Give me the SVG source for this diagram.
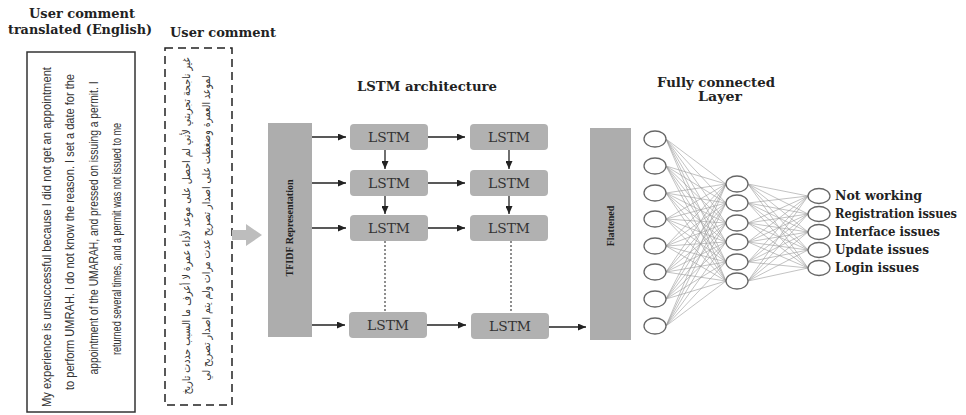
<svg xmlns="http://www.w3.org/2000/svg" width="966" height="415" viewBox="0 0 966 415">
<defs>
<style>
.title{font-family:"DejaVu Serif","Liberation Serif",serif;font-weight:bold;font-size:13px;fill:#222;text-anchor:middle}
.en{font-family:"Liberation Sans",sans-serif;font-size:13px;fill:#333;text-anchor:middle}
.ar{font-family:"DejaVu Sans",sans-serif;font-size:11px;fill:#333;text-anchor:middle}
.box{fill:#adadad}
.lstm{fill:#b1b1b1}
.lt{font-family:"DejaVu Serif","Liberation Serif",serif;font-size:12px;fill:#333;text-anchor:middle}
.vt{font-family:"Liberation Serif",serif;font-weight:bold;font-size:10px;fill:#222;text-anchor:middle}
.arr{stroke:#222;stroke-width:1.3;fill:none;marker-end:url(#ah)}
.dash{stroke:#444;stroke-width:1.2;stroke-dasharray:2 2;fill:none}
.net{stroke:#9a9a9a;stroke-width:0.6;fill:none}
.nd{fill:#fff;stroke:#666;stroke-width:1.3}
.lab{font-family:"DejaVu Serif","Liberation Serif",serif;font-weight:bold;font-size:12px;fill:#222}
</style>
<marker id="ah" markerUnits="userSpaceOnUse" markerWidth="8" markerHeight="7" refX="8" refY="3.5" orient="auto">
<path d="M0,0 L8,3.5 L0,7 z" fill="#222"/>
</marker>
</defs>
<rect width="966" height="415" fill="#fff"/>

<g id="titles">
<text class="title" x="82" y="18" textLength="106" lengthAdjust="spacingAndGlyphs">User comment</text>
<text class="title" x="80" y="34" textLength="144" lengthAdjust="spacingAndGlyphs">translated (English)</text>
<text class="title" x="223" y="37" textLength="106" lengthAdjust="spacingAndGlyphs">User comment</text>
<text class="title" x="427" y="91" textLength="140" lengthAdjust="spacingAndGlyphs">LSTM architecture</text>
<text class="title" x="716" y="87" textLength="118" lengthAdjust="spacingAndGlyphs">Fully connected</text>
<text class="title" x="720" y="101" textLength="44" lengthAdjust="spacingAndGlyphs">Layer</text>
</g>

<g id="english-comment">
<rect x="27" y="52" width="108" height="360" fill="#fff" stroke="#333" stroke-width="1.5"/>
<text class="en" transform="translate(51,237) rotate(-90)" textLength="340" lengthAdjust="spacingAndGlyphs">My experience is unsuccessful because I did not get an appointment</text>
<text class="en" transform="translate(74,232) rotate(-90)" textLength="316" lengthAdjust="spacingAndGlyphs">to perform UMRAH. I do not know the reason. I set a date for the</text>
<text class="en" transform="translate(98,228) rotate(-90)" textLength="293" lengthAdjust="spacingAndGlyphs">appointment of the UMARAH, and pressed on issuing a permit. I</text>
<text class="en" transform="translate(121,239) rotate(-90)" textLength="232" lengthAdjust="spacingAndGlyphs">returned several times, and a permit was not issued to me</text>
</g>

<g id="arabic-comment">
<rect x="165" y="48" width="67" height="357" fill="#fff" stroke="#222" stroke-width="1.5" stroke-dasharray="8 5"/>
<text class="ar" transform="translate(190,226) rotate(-90)" textLength="337" lengthAdjust="spacingAndGlyphs">غير ناجحة تجربتي لأني لم احصل على موعد لأداء عمرة لا أعرف ما السبب حددت تاريخ</text>
<text class="ar" transform="translate(210,228) rotate(-90)" textLength="305" lengthAdjust="spacingAndGlyphs">لموعد العمرة وضغطت على اصدار تصريح عدت مرات ولم يتم اصدار تصريح لي</text>
</g>

<g id="input-arrow">
<path d="M232,230 L246,230 L246,224 L262,235 L246,246 L246,240 L232,240 z" fill="#bdbdbd"/>
</g>

<g id="tfidf">
<rect class="box" x="268" y="123" width="44" height="214"/>
<text class="vt" transform="translate(293,228) rotate(-90)">TFIDF Representation</text>
</g>

<g id="lstm-1-1"><rect class="lstm" x="350" y="124" width="78" height="26" rx="4"/><text class="lt" x="389" y="142" textLength="42" lengthAdjust="spacingAndGlyphs">LSTM</text></g>
<g id="lstm-1-2"><rect class="lstm" x="470" y="124" width="78" height="26" rx="4"/><text class="lt" x="509" y="142" textLength="42" lengthAdjust="spacingAndGlyphs">LSTM</text></g>
<g id="lstm-2-1"><rect class="lstm" x="350" y="170" width="78" height="26" rx="4"/><text class="lt" x="389" y="188" textLength="42" lengthAdjust="spacingAndGlyphs">LSTM</text></g>
<g id="lstm-2-2"><rect class="lstm" x="470" y="170" width="78" height="26" rx="4"/><text class="lt" x="509" y="188" textLength="42" lengthAdjust="spacingAndGlyphs">LSTM</text></g>
<g id="lstm-3-1"><rect class="lstm" x="350" y="215" width="78" height="26" rx="4"/><text class="lt" x="389" y="233" textLength="42" lengthAdjust="spacingAndGlyphs">LSTM</text></g>
<g id="lstm-3-2"><rect class="lstm" x="470" y="215" width="78" height="26" rx="4"/><text class="lt" x="509" y="233" textLength="42" lengthAdjust="spacingAndGlyphs">LSTM</text></g>
<g id="lstm-4-1"><rect class="lstm" x="349" y="312" width="78" height="26" rx="4"/><text class="lt" x="388" y="330" textLength="42" lengthAdjust="spacingAndGlyphs">LSTM</text></g>
<g id="lstm-4-2"><rect class="lstm" x="471" y="313" width="78" height="26" rx="4"/><text class="lt" x="510" y="331" textLength="42" lengthAdjust="spacingAndGlyphs">LSTM</text></g>

<g id="flattened">
<rect class="box" x="590" y="128" width="41" height="212"/>
<text class="vt" transform="translate(614,226) rotate(-90)">Flattened</text>
</g>

<g id="connectors">
<path class="arr" d="M312,137 L346,137"/>
<path class="arr" d="M312,183 L346,183"/>
<path class="arr" d="M312,228 L346,228"/>
<path class="arr" d="M312,325 L345,325"/>
<path class="arr" d="M428,137 L465,137"/>
<path class="arr" d="M428,183 L465,183"/>
<path class="arr" d="M428,228 L465,228"/>
<path class="arr" d="M427,325 L466,325"/>
<path class="arr" d="M549,327 L586,327"/>
<path class="arr" d="M385,150 L385,169"/>
<path class="arr" d="M385,196 L385,214"/>
<path class="arr" d="M509,150 L509,169"/>
<path class="arr" d="M509,196 L509,214"/>
<path class="dash" d="M385,241 L385,312"/>
<path class="dash" d="M511,241 L511,313"/>
<path class="net" d="M666 139L726 184M666 139L726 203M666 139L726 223M666 139L726 242M666 139L726 262M666 139L726 281
M666 166L726 184M666 166L726 203M666 166L726 223M666 166L726 242M666 166L726 262M666 166L726 281
M666 193L726 184M666 193L726 203M666 193L726 223M666 193L726 242M666 193L726 262M666 193L726 281
M666 219L726 184M666 219L726 203M666 219L726 223M666 219L726 242M666 219L726 262M666 219L726 281
M666 246L726 184M666 246L726 203M666 246L726 223M666 246L726 242M666 246L726 262M666 246L726 281
M666 272L726 184M666 272L726 203M666 272L726 223M666 272L726 242M666 272L726 262M666 272L726 281
M666 299L726 184M666 299L726 203M666 299L726 223M666 299L726 242M666 299L726 262M666 299L726 281
M666 326L726 184M666 326L726 203M666 326L726 223M666 326L726 242M666 326L726 262M666 326L726 281
M748 184L808 196M748 184L808 214M748 184L808 232M748 184L808 250M748 184L808 268
M748 203L808 196M748 203L808 214M748 203L808 232M748 203L808 250M748 203L808 268
M748 223L808 196M748 223L808 214M748 223L808 232M748 223L808 250M748 223L808 268
M748 242L808 196M748 242L808 214M748 242L808 232M748 242L808 250M748 242L808 268
M748 262L808 196M748 262L808 214M748 262L808 232M748 262L808 250M748 262L808 268
M748 281L808 196M748 281L808 214M748 281L808 232M748 281L808 250M748 281L808 268"/>
</g>

<g id="input-layer">
<ellipse class="nd" cx="655" cy="139" rx="11" ry="8"/>
<ellipse class="nd" cx="655" cy="166" rx="11" ry="8"/>
<ellipse class="nd" cx="655" cy="193" rx="11" ry="8"/>
<ellipse class="nd" cx="655" cy="219" rx="11" ry="8"/>
<ellipse class="nd" cx="655" cy="246" rx="11" ry="8"/>
<ellipse class="nd" cx="655" cy="272" rx="11" ry="8"/>
<ellipse class="nd" cx="655" cy="299" rx="11" ry="8"/>
<ellipse class="nd" cx="655" cy="326" rx="11" ry="8"/>
</g>
<g id="hidden-layer">
<ellipse class="nd" cx="737" cy="184" rx="11" ry="8"/>
<ellipse class="nd" cx="737" cy="203" rx="11" ry="8"/>
<ellipse class="nd" cx="737" cy="223" rx="11" ry="8"/>
<ellipse class="nd" cx="737" cy="242" rx="11" ry="8"/>
<ellipse class="nd" cx="737" cy="262" rx="11" ry="8"/>
<ellipse class="nd" cx="737" cy="281" rx="11" ry="8"/>
</g>
<g id="output-layer">
<g id="out-not-working"><ellipse class="nd" cx="819" cy="196" rx="11" ry="7.5"/><text class="lab" x="835" y="200" textLength="87" lengthAdjust="spacingAndGlyphs">Not working</text></g>
<g id="out-registration"><ellipse class="nd" cx="819" cy="214" rx="11" ry="7.5"/><text class="lab" x="835" y="218" textLength="122" lengthAdjust="spacingAndGlyphs">Registration issues</text></g>
<g id="out-interface"><ellipse class="nd" cx="819" cy="232" rx="11" ry="7.5"/><text class="lab" x="835" y="236" textLength="105" lengthAdjust="spacingAndGlyphs">Interface issues</text></g>
<g id="out-update"><ellipse class="nd" cx="819" cy="250" rx="11" ry="7.5"/><text class="lab" x="835" y="254" textLength="94" lengthAdjust="spacingAndGlyphs">Update issues</text></g>
<g id="out-login"><ellipse class="nd" cx="819" cy="268" rx="11" ry="7.5"/><text class="lab" x="835" y="272" textLength="84" lengthAdjust="spacingAndGlyphs">Login issues</text></g>
</g>
</svg>
